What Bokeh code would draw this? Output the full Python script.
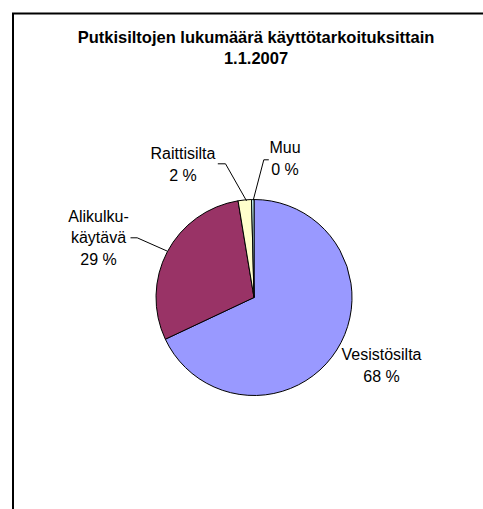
from math import pi
from bokeh.plotting import figure
from bokeh.models import Range1d, ColumnDataSource
from bokeh.core.properties import value
from bokeh.embed import file_html
from bokeh.resources import INLINE

# ---- data ----
title_lines = ["Putkisiltojen lukumäärä käyttötarkoituksittain", "1.1.2007"]
categories = ["Vesistösilta", "Alikulku-käytävä", "Raittisilta", "Muu"]
shares = [68.0, 29.4, 2.2, 0.4]          # percent of all pipe bridges
colors = ["#9999FF", "#993366", "#FFFFCC", "#CCFFFF"]

W, H = 483, 509
FONT = "Liberation Sans"

def X(xi):  # image px -> data
    return xi

def Y(yi):
    return H - yi

p = figure(width=W, height=H, output_backend="svg", toolbar_location=None, title=None,
           x_range=Range1d(0, W), y_range=Range1d(0, H), min_border=0,
           x_axis_location=None, y_axis_location=None)
p.grid.visible = False
p.outline_line_color = None
p.background_fill_color = "white"
p.border_fill_color = "white"

# chart area border (right and bottom edges fall outside the crop)
p.segment(x0=[X(12.5), X(11.5)], y0=[Y(H + 5), Y(13)], x1=[X(12.5), X(W + 5)], y1=[Y(13), Y(13)],
          line_color="black", line_width=2)

# ---- pie ----
total = sum(shares)
starts, ends = [], []
cum = 0.0
for v in shares:
    starts.append(pi / 2 - 2 * pi * cum / total)
    cum += v
    ends.append(pi / 2 - 2 * pi * cum / total)
src = ColumnDataSource(dict(cat=categories, v=shares, start=starts, end=ends, color=colors))
cx, cy, r = X(253.5), Y(297), 98
p.wedge(x=cx, y=cy, radius=r, radius_units="screen", start_angle="start", end_angle="end",
        direction="clock", fill_color="color", line_color="black", line_width=1, source=src)

# ---- leader lines ----
leaders = [
    [(130, 237.3), (136.7, 237.3), (166.5, 250.5)],   # Alikulku
    [(217.3, 163.3), (225, 163.3), (246, 200.3)],     # Raittisilta
    [(268.3, 159.3), (263.3, 159.3), (252.7, 199.8)], # Muu
]
for pts in leaders:
    p.line(x=[X(a) for a, b in pts], y=[Y(b) for a, b in pts], line_color="black", line_width=1)

# ---- labels ----
pct = [f"{round(v)} %" for v in shares]
name_lines = [["Vesistösilta"], ["Alikulku-", "käytävä"], ["Raittisilta"], ["Muu"]]
anchors = [(381, 354), (98, 215.5), (182.5, 153.3), (284.5, 147)]
LH = 21.5
lx, ly, lt = [], [], []
for lines, pc, (ax, ay) in zip(name_lines, pct, anchors):
    for i, t in enumerate(lines + [pc]):
        lx.append(X(ax)); ly.append(Y(ay + i * LH)); lt.append(t)
p.text(x=lx, y=ly, text=lt, text_font=value(FONT), text_font_size="16px",
       text_align="center", text_baseline="middle", text_color="black")

# ---- title ----
p.text(x=[X(255.5), X(255.5)], y=[Y(36), Y(57.5)], text=title_lines, text_font=value(FONT),
       text_font_size="16.5px", text_font_style="bold", text_align="center",
       text_baseline="middle", text_color="black")

open("out.html", "w").write(file_html(p, INLINE))
